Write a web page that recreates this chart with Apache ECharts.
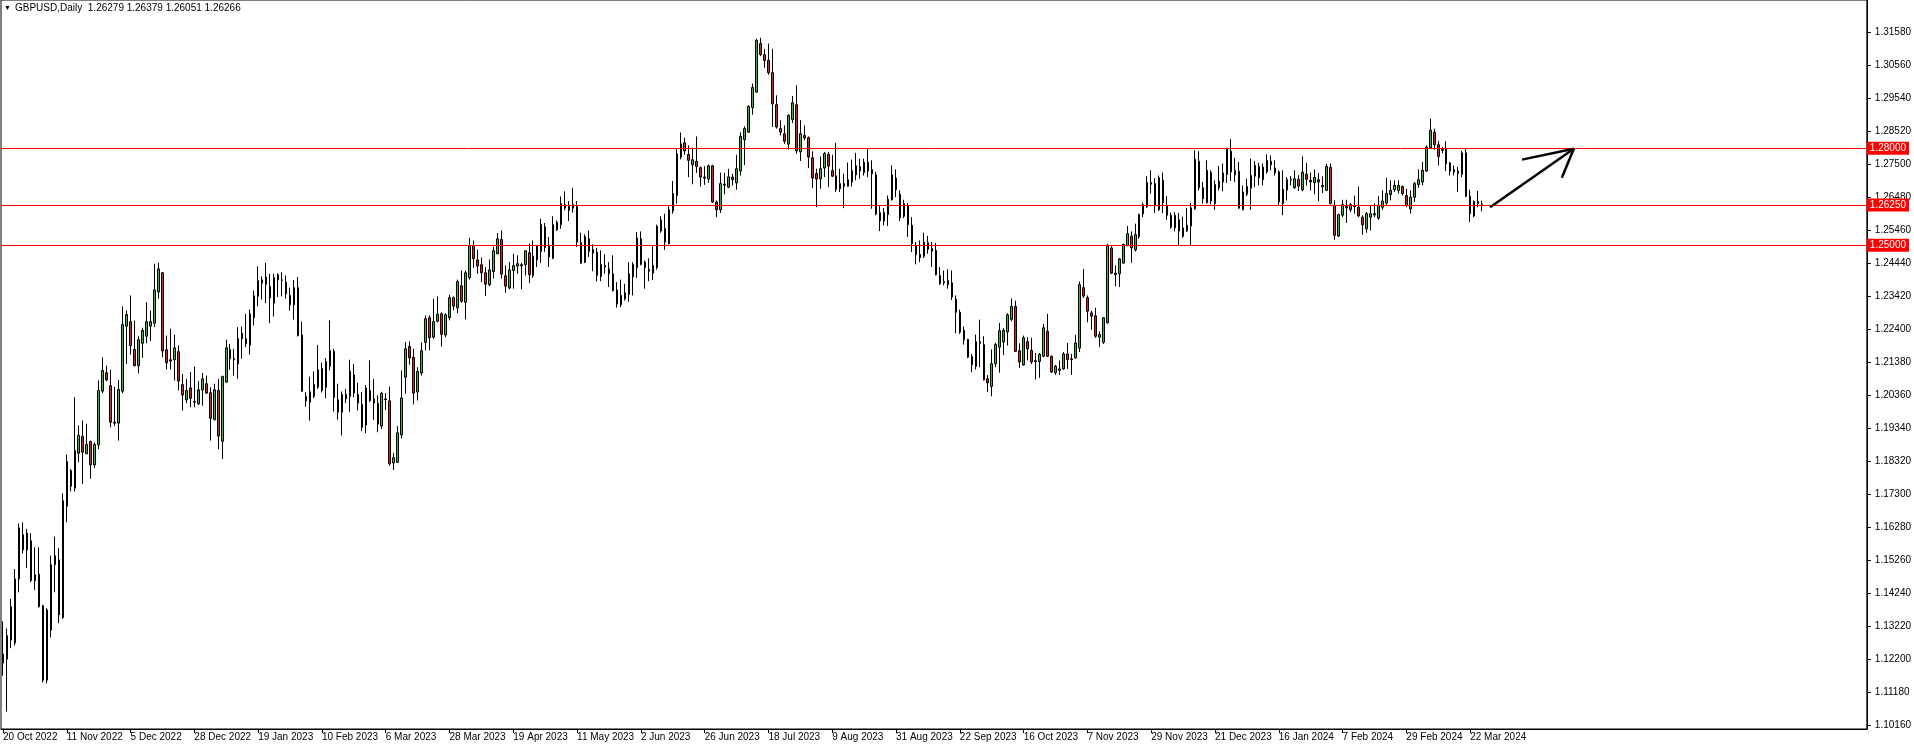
<!DOCTYPE html>
<html><head><meta charset="utf-8">
<script src="https://cdn.jsdelivr.net/npm/echarts@6/dist/echarts.min.js"></script>
<style>html,body{margin:0;padding:0;background:#fff;}#c{width:1914px;height:749px;}</style>
</head><body><div id="c"></div>
<script>
const symbolName = 'GBPUSD,Daily';
const tickLabels = ['20 Oct 2022','11 Nov 2022','5 Dec 2022','28 Dec 2022','19 Jan 2023','10 Feb 2023','6 Mar 2023','28 Mar 2023','19 Apr 2023','11 May 2023','2 Jun 2023','26 Jun 2023','18 Jul 2023','9 Aug 2023','31 Aug 2023','22 Sep 2023','16 Oct 2023','7 Nov 2023','29 Nov 2023','21 Dec 2023','16 Jan 2024','7 Feb 2024','29 Feb 2024','22 Mar 2024'];
const priceTicks = [1.10160,1.11180,1.12200,1.13220,1.14240,1.15260,1.16280,1.17300,1.18320,1.19340,1.20360,1.21380,1.22400,1.23420,1.24440,1.25460,1.26480,1.27500,1.28520,1.29540,1.30560,1.31580];
const levels = [1.28000, 1.26250, 1.25000];

const opens = [
1.1208,1.1220,1.1382,1.1270,1.1468,1.1605,1.1558,1.1586,1.1463,1.1483,
1.1385,1.1155,1.1310,1.1512,1.1527,1.1349,1.1693,1.1803,1.1749,1.1857,
1.1909,1.1855,1.1893,1.1821,1.1883,1.2049,1.2106,1.2066,1.1953,1.1950,
1.2049,1.2250,1.2264,1.2178,1.2128,1.2197,1.2219,1.2250,1.2259,1.2356,
1.2415,1.2177,1.2146,1.2146,1.2171,1.2069,1.2022,1.2059,1.2017,1.2010,
1.2053,1.2072,1.2044,1.1961,1.2051,1.1894,1.2077,1.2177,1.2150,1.2133,
1.2211,1.2211,1.2191,1.2276,1.2343,1.2383,1.2402,1.2373,1.2321,1.2393,
1.2393,1.2386,1.2345,1.2316,1.2369,1.2223,1.2032,1.2015,1.2033,1.2061,
1.2119,1.2061,1.2126,1.2172,1.2022,1.1984,1.2025,1.2033,1.2099,1.2039,
1.2008,1.1944,1.2051,1.2012,1.2011,1.1941,1.2025,1.2019,1.1827,1.1829,
1.1914,1.2092,1.2187,1.2153,1.2046,1.2105,1.2200,1.2276,1.2216,1.2265,
1.2288,1.2223,1.2276,1.2338,1.2307,1.2375,1.2324,1.2400,1.2499,1.2455,
1.2440,1.2415,1.2378,1.2419,1.2474,1.2518,1.2406,1.2368,1.2422,1.2436,
1.2440,1.2440,1.2477,1.2406,1.2455,1.2481,1.2557,1.2497,1.2460,1.2548,
1.2564,1.2626,1.2620,1.2615,1.2620,1.2508,1.2448,1.2520,1.2476,1.2479,
1.2404,1.2433,1.2427,1.2412,1.2362,1.2316,1.2335,1.2348,1.2402,1.2431,
1.2520,1.2448,1.2425,1.2414,1.2431,1.2544,1.2552,1.2505,1.2606,1.2654,
1.2773,1.2817,1.2781,1.2749,1.2760,1.2740,1.2711,1.2705,1.2746,1.2634,
1.2610,1.2689,1.2680,1.2711,1.2693,1.2730,1.2827,1.2850,1.2926,1.2974,
1.3124,1.3090,1.3072,1.3034,1.2935,1.2861,1.2845,1.2813,1.2889,1.2935,
1.2789,1.2840,1.2833,1.2771,1.2722,1.2706,1.2739,1.2781,1.2731,1.2715,
1.2675,1.2691,1.2683,1.2696,1.2718,1.2743,1.2725,1.2757,1.2734,1.2718,
1.2601,1.2575,1.2595,1.2641,1.2708,1.2658,1.2590,1.2623,1.2562,1.2500,
1.2472,1.2466,1.2508,1.2490,1.2484,1.2406,1.2388,1.2378,1.2384,1.2333,
1.2293,1.2237,1.2209,1.2156,1.2126,1.2202,1.2193,1.2087,1.2064,1.2134,
1.2185,1.2201,1.2232,1.2271,1.2311,1.2174,1.2130,1.2202,1.2175,1.2143,
1.2141,1.2157,1.2234,1.2157,1.2106,1.2113,1.2118,1.2164,1.2149,1.2152,
1.2182,1.2369,1.2338,1.2291,1.2282,1.2216,1.2200,1.2260,1.2492,1.2414,
1.2412,1.2445,1.2499,1.2528,1.2486,1.2526,1.2597,1.2619,1.2689,1.2691,
1.2610,1.2701,1.2622,1.2593,1.2554,1.2579,1.2528,1.2545,1.2560,1.2613,
1.2760,1.2678,1.2632,1.2725,1.2629,1.2678,1.2696,1.2719,1.2791,1.2718,
1.2729,1.2610,1.2658,1.2677,1.2714,1.2744,1.2703,1.2727,1.2760,1.2739,
1.2727,1.2629,1.2671,1.2702,1.2678,1.2704,1.2672,1.2720,1.2701,1.2694,
1.2703,1.2685,1.2670,1.2741,1.2624,1.2529,1.2593,1.2620,1.2610,1.2622,
1.2618,1.2587,1.2551,1.2587,1.2594,1.2584,1.2618,1.2631,1.2657,1.2672,
1.2670,1.2682,1.2654,1.2613,1.2649,1.2688,1.2696,1.2730,1.2802,1.2850,
1.2811,1.2799,1.2799,1.2755,1.2735,1.2730,1.2720,1.2786,1.2652,1.2591,
1.2636,1.26279];

const highs = [
1.1337,1.1315,1.1406,1.1499,1.1640,1.1643,1.1623,1.1610,1.1566,1.1566,
1.1388,1.1378,1.1540,1.1599,1.1564,1.1733,1.1853,1.1808,1.2030,1.1943,
1.1958,1.1948,1.1896,1.1890,1.2082,1.2154,1.2128,1.2115,1.2063,1.2084,
1.2311,1.2298,1.2345,1.2267,1.2219,1.2245,1.2324,1.2298,1.2443,1.2446,
1.2417,1.2221,1.2242,1.2224,1.2190,1.2102,1.2087,1.2108,1.2125,1.2080,
1.2105,1.2097,1.2061,1.2072,1.2087,1.2097,1.2208,1.2195,1.2180,1.2247,
1.2249,1.2288,1.2301,1.2360,1.2435,1.2404,1.2446,1.2412,1.2412,1.2414,
1.2417,1.2407,1.2369,1.2393,1.2402,1.2264,1.2046,1.2094,1.2110,1.2192,
1.2137,1.2151,1.2268,1.2180,1.2072,1.2048,1.2056,1.2146,1.2133,1.2075,
1.2046,1.2068,1.2144,1.2087,1.2036,1.2047,1.2043,1.2063,1.1858,1.1941,
1.2113,1.2201,1.2203,1.2180,1.2123,1.2200,1.2283,1.2283,1.2335,1.2342,
1.2293,1.2290,1.2347,1.2342,1.2394,1.2422,1.2422,1.2523,1.2515,1.2487,
1.2462,1.2433,1.2456,1.2495,1.2538,1.2546,1.2438,1.2448,1.2474,1.2469,
1.2446,1.2484,1.2505,1.2515,1.2500,1.2582,1.2569,1.2526,1.2590,1.2577,
1.2651,1.2667,1.2637,1.2678,1.2637,1.2539,1.2534,1.2546,1.2503,1.2492,
1.2484,1.2472,1.2448,1.2469,1.2386,1.2394,1.2381,1.2448,1.2448,1.2541,
1.2543,1.2453,1.2460,1.2500,1.2564,1.2590,1.2598,1.2622,1.2699,1.2799,
1.2849,1.2833,1.2809,1.2802,1.2837,1.2744,1.2745,1.2750,1.2749,1.2639,
1.2725,1.2724,1.2737,1.2721,1.2780,1.2850,1.2868,1.2933,1.3000,1.3139,
1.3142,1.3108,1.3124,1.3108,1.2964,1.2887,1.2871,1.2905,1.2962,1.2995,
1.2887,1.2871,1.2837,1.2791,1.2737,1.2775,1.2789,1.2789,1.2780,1.2817,
1.2737,1.2722,1.2756,1.2765,1.2786,1.2768,1.2768,1.2798,1.2763,1.2727,
1.2623,1.2615,1.2654,1.2747,1.2735,1.2670,1.2641,1.2631,1.2587,1.2510,
1.2515,1.2539,1.2529,1.2510,1.2507,1.2433,1.2422,1.2426,1.2422,1.2345,
1.2301,1.2249,1.2211,1.2164,1.2224,1.2270,1.2219,1.2099,1.2178,1.2199,
1.2260,1.2244,1.2290,1.2336,1.2329,1.2197,1.2221,1.2216,1.2214,1.2167,
1.2167,1.2257,1.2288,1.2159,1.2130,1.2144,1.2170,1.2198,1.2164,1.2223,
1.2388,1.2427,1.2345,1.2298,1.2307,1.2234,1.2278,1.2505,1.2497,1.2438,
1.2461,1.2505,1.2560,1.2543,1.2567,1.2598,1.2632,1.2714,1.2732,1.2708,
1.2716,1.2725,1.2652,1.2601,1.2603,1.2600,1.2589,1.2615,1.2632,1.2794,
1.2791,1.2696,1.2763,1.2732,1.2701,1.2745,1.2753,1.2802,1.2828,1.2771,
1.2758,1.2685,1.2706,1.2768,1.2761,1.2755,1.2753,1.2781,1.2778,1.2763,
1.2732,1.2732,1.2711,1.2714,1.2732,1.2717,1.2775,1.2755,1.2725,1.2735,
1.2724,1.2713,1.2752,1.2753,1.2639,1.2598,1.2641,1.2641,1.2631,1.2654,
1.2682,1.2593,1.2603,1.2624,1.2629,1.2652,1.2670,1.2709,1.2701,1.2701,
1.2701,1.2685,1.2675,1.2670,1.2696,1.2735,1.2758,1.2809,1.2892,1.2861,
1.2823,1.2804,1.2822,1.2758,1.2747,1.2742,1.2792,1.2802,1.2672,1.2639,
1.2668,1.26379];

const lows = [
1.1169,1.1058,1.1254,1.1262,1.1427,1.1547,1.1502,1.1458,1.1434,1.1380,
1.1148,1.1145,1.1287,1.1427,1.1331,1.1344,1.1643,1.1739,1.1739,1.1829,
1.1762,1.1855,1.1778,1.1811,1.1870,1.2043,1.2080,1.1937,1.1941,1.1896,
1.2043,1.2133,1.2162,1.2125,1.2104,1.2152,1.2197,1.2204,1.2247,1.2335,
1.2154,1.2116,1.2116,1.2082,1.2051,1.1989,1.2012,1.1999,1.1999,1.2006,
1.2004,1.2041,1.1896,1.1958,1.1870,1.1839,1.2075,1.2115,1.2097,1.2087,
1.2149,1.2185,1.2162,1.2252,1.2311,1.2332,1.2321,1.2259,1.2280,1.2340,
1.2342,1.2335,1.2298,1.2270,1.2218,1.2046,1.2001,1.1958,1.2027,1.2056,
1.2045,1.2027,1.2113,1.1986,1.1961,1.1912,1.2012,1.1984,1.2030,1.1989,
1.1925,1.1919,1.2015,1.1960,1.1922,1.1932,1.1991,1.1819,1.1805,1.1827,
1.1903,1.2041,1.2131,1.2008,1.2020,1.2097,1.2175,1.2175,1.2211,1.2262,
1.2187,1.2216,1.2268,1.2299,1.2290,1.2322,1.2271,1.2394,1.2430,1.2412,
1.2386,1.2343,1.2374,1.2397,1.2472,1.2397,1.2353,1.2364,1.2366,1.2412,
1.2364,1.2407,1.2383,1.2399,1.2433,1.2445,1.2480,1.2433,1.2457,1.2544,
1.2551,1.2608,1.2575,1.2601,1.2495,1.2443,1.2445,1.2464,1.2420,1.2388,
1.2389,1.2412,1.2371,1.2357,1.2307,1.2309,1.2329,1.2325,1.2345,1.2399,
1.2438,1.2366,1.2389,1.2393,1.2425,1.2539,1.2486,1.2503,1.2598,1.2629,
1.2766,1.2780,1.2711,1.2689,1.2724,1.2682,1.2687,1.2693,1.2631,1.2587,
1.2600,1.2658,1.2677,1.2685,1.2672,1.2716,1.2748,1.2848,1.2904,1.2972,
1.3085,1.3049,1.3028,1.2866,1.2861,1.2840,1.2814,1.2796,1.2878,1.2783,
1.2761,1.2825,1.2739,1.2677,1.2618,1.2675,1.2711,1.2680,1.2711,1.2665,
1.2665,1.2615,1.2682,1.2682,1.2701,1.2706,1.2716,1.2711,1.2613,1.2593,
1.2544,1.2562,1.2560,1.2639,1.2649,1.2575,1.2584,1.2526,1.2479,1.2441,
1.2448,1.2461,1.2474,1.2433,1.2407,1.2378,1.2376,1.2366,1.2331,1.2228,
1.2226,1.2193,1.2151,1.2108,1.2116,1.2123,1.2082,1.2046,1.2033,1.2123,
1.2106,1.2161,1.2190,1.2265,1.2170,1.2121,1.2128,1.2144,1.2133,1.2085,
1.2090,1.2154,1.2154,1.2106,1.2099,1.2099,1.2115,1.2118,1.2099,1.2149,
1.2170,1.2337,1.2262,1.2239,1.2214,1.2185,1.2195,1.2259,1.2411,1.2373,
1.2371,1.2443,1.2497,1.2446,1.2481,1.2520,1.2587,1.2616,1.2660,1.2600,
1.2606,1.2600,1.2579,1.2551,1.2543,1.2500,1.2523,1.2541,1.2500,1.2610,
1.2670,1.2629,1.2629,1.2627,1.2610,1.2670,1.2667,1.2693,1.2699,1.2696,
1.2613,1.2608,1.2652,1.2610,1.2680,1.2685,1.2685,1.2722,1.2732,1.2716,
1.2624,1.2593,1.2639,1.2685,1.2675,1.2668,1.2667,1.2685,1.2670,1.2658,
1.2637,1.2662,1.2668,1.2627,1.2517,1.2526,1.2587,1.2569,1.2603,1.2598,
1.2587,1.2533,1.2539,1.2546,1.2587,1.2579,1.2610,1.2621,1.2639,1.2665,
1.2660,1.2654,1.2618,1.2598,1.2634,1.2678,1.2686,1.2727,1.2799,1.2796,
1.2747,1.2785,1.2730,1.2716,1.2716,1.2665,1.2711,1.2649,1.2572,1.2587,
1.2618,1.26051];

const closes = [
1.1236,1.1293,1.1279,1.1468,1.1626,1.1558,1.1610,1.1463,1.1481,1.1382,
1.1155,1.1372,1.1512,1.1540,1.1357,1.1710,1.1831,1.1755,1.1865,1.1912,
1.1860,1.1884,1.1821,1.1884,1.2051,1.2113,1.2084,1.1953,1.1950,1.2054,
1.2255,1.2286,1.2190,1.2128,1.2208,1.2237,1.2264,1.2264,1.2362,1.2427,
1.2173,1.2137,1.2142,1.2183,1.2080,1.2037,1.2051,1.2027,1.2015,1.2053,
1.2087,1.2043,1.1965,1.2053,1.1910,1.2094,1.2183,1.2149,1.2146,1.2211,
1.2228,1.2195,1.2288,1.2344,1.2391,1.2393,1.2379,1.2337,1.2400,1.2409,
1.2392,1.2350,1.2316,1.2369,1.2221,1.2049,1.2019,1.2047,1.2070,1.2115,
1.2051,1.2140,1.2174,1.2030,1.1984,1.2039,1.2039,1.2110,1.2043,1.2012,
1.1937,1.2059,1.2020,1.2025,1.1947,1.2042,1.2023,1.1824,1.1843,1.1920,
1.2028,1.2180,1.2152,1.2043,1.2110,1.2174,1.2273,1.2214,1.2264,1.2287,
1.2225,1.2285,1.2338,1.2312,1.2388,1.2327,1.2415,1.2499,1.2459,1.2436,
1.2415,1.2380,1.2424,1.2483,1.2520,1.2411,1.2374,1.2424,1.2437,1.2443,
1.2437,1.2483,1.2409,1.2466,1.2497,1.2565,1.2493,1.2464,1.2564,1.2571,
1.2629,1.2615,1.2608,1.2626,1.2510,1.2445,1.2527,1.2482,1.2487,1.2407,
1.2441,1.2438,1.2412,1.2360,1.2319,1.2345,1.2353,1.2412,1.2441,1.2523,
1.2441,1.2431,1.2420,1.2438,1.2559,1.2579,1.2510,1.2610,1.2660,1.2783,
1.2814,1.2792,1.2763,1.2765,1.2744,1.2711,1.2708,1.2746,1.2634,1.2610,
1.2691,1.2686,1.2712,1.2703,1.2737,1.2837,1.2861,1.2930,1.2988,1.3134,
1.3090,1.3072,1.3034,1.2937,1.2866,1.2850,1.2822,1.2902,1.2941,1.2792,
1.2845,1.2832,1.2773,1.2708,1.2705,1.2737,1.2784,1.2745,1.2714,1.2673,
1.2691,1.2683,1.2703,1.2731,1.2746,1.2730,1.2757,1.2730,1.2721,1.2597,
1.2576,1.2601,1.2642,1.2718,1.2672,1.2585,1.2629,1.2564,1.2505,1.2471,
1.2462,1.2509,1.2488,1.2482,1.2409,1.2381,1.2384,1.2391,1.2340,1.2293,
1.2231,1.2208,1.2154,1.2131,1.2202,1.2197,1.2084,1.2075,1.2134,1.2193,
1.2236,1.2237,1.2285,1.2311,1.2172,1.2139,1.2214,1.2180,1.2139,1.2140,
1.2163,1.2245,1.2157,1.2108,1.2126,1.2118,1.2164,1.2147,1.2147,1.2198,
1.2378,1.2343,1.2296,1.2281,1.2219,1.2224,1.2276,1.2498,1.2414,1.2409,
1.2458,1.2503,1.2536,1.2492,1.2533,1.2595,1.2626,1.2694,1.2694,1.2622,
1.2709,1.2631,1.2593,1.2556,1.2593,1.2544,1.2554,1.2562,1.2616,1.2766,
1.2678,1.2644,1.2732,1.2637,1.2688,1.2698,1.2724,1.2797,1.2727,1.2732,
1.2615,1.2665,1.2682,1.2716,1.2747,1.2709,1.2742,1.2763,1.2749,1.2724,
1.2634,1.2673,1.2704,1.2704,1.2706,1.2683,1.2726,1.2704,1.2696,1.2710,
1.2696,1.2681,1.2744,1.2629,1.2531,1.2595,1.2626,1.2616,1.2626,1.2620,
1.2591,1.2564,1.2598,1.2598,1.2598,1.2624,1.2637,1.2660,1.2670,1.2685,
1.2685,1.2660,1.2623,1.2649,1.2691,1.2703,1.2732,1.2804,1.2856,1.2811,
1.2775,1.2794,1.2752,1.2729,1.2727,1.2722,1.2786,1.2652,1.2598,1.2636,
1.2629,1.26266];

// hand-drawn arrow, anchored in [bar slot, price]
const arrowShaft = [[373, 1.2618], [394, 1.2799]];
const arrowHead = [[381, 1.2765], [394, 1.2799], [391, 1.2709]];

const totalSlots = 468;     // visible bar slots incl. empty future area
const labelEvery = 16;

const categories = [];
for (let i = 0; i < totalSlots; i++) {
  const k = i / labelEvery;
  categories.push(i % labelEvery === 0 && k < tickLabels.length ? tickLabels[k] : 'slot' + i);
}
const isLabelSlot = (i) => i % labelEvery === 0 && (i / labelEvery) < tickLabels.length;

const candles = opens.map((o, i) => [o, closes[i], lows[i], highs[i]]);
const last = opens.length - 1;
const headerText = symbolName + '  ' + [opens[last], highs[last], lows[last], closes[last]].map(v => v.toFixed(5)).join(' ');

const FONT = 'Liberation Sans';
const chart = echarts.init(document.getElementById('c'), null, {renderer: 'canvas'});
chart.setOption({
  animation: false,
  backgroundColor: '#ffffff',
  grid: {left: 0.5, right: 41.5, top: 0, bottom: 20, show: true, borderColor: '#000', borderWidth: 1, backgroundColor: 'transparent'},
  xAxis: {
    type: 'category', data: categories, boundaryGap: true,
    axisLine: {show: true, lineStyle: {color: '#000', width: 1}},
    axisTick: {show: true, alignWithLabel: true, interval: (i) => isLabelSlot(i), length: 4, lineStyle: {color: '#000'}},
    axisLabel: {interval: (i) => isLabelSlot(i), align: 'left', margin: 3, color: '#000', fontSize: 10, fontFamily: FONT},
    splitLine: {show: false}
  },
  yAxis: {
    type: 'value', position: 'right', min: 1.10040, max: 1.32588,
    splitLine: {show: false},
    axisLine: {show: true, lineStyle: {color: '#000', width: 1}},
    axisTick: {show: true, length: 4, customValues: priceTicks, lineStyle: {color: '#000'}},
    axisLabel: {customValues: priceTicks, formatter: (v) => v.toFixed(5), margin: 8, color: '#000', fontSize: 10, fontFamily: FONT}
  },
  series: [
    {
      type: 'candlestick', data: candles, barWidth: 2,
      itemStyle: {color: '#3cb43c', color0: '#e01e1e', borderColor: '#000', borderColor0: '#000', borderColorDoji: '#000', borderWidth: 1},
      markLine: {
        silent: true, symbol: ['none', 'none'], animation: false, precision: 5,
        lineStyle: {color: '#ff0000', width: 1, type: 'solid'},
        label: {show: true, position: 'end', distance: 0, formatter: (p) => Number(p.value).toFixed(5),
                backgroundColor: '#ff0000', color: '#fff', fontSize: 10, fontFamily: FONT, padding: [1, 3, 1, 3], lineHeight: 11},
        data: levels.map(v => ({yAxis: v}))
      }
    },
    {type: 'line', data: arrowShaft, showSymbol: false, symbol: 'none', z: 5, lineStyle: {color: '#000', width: 2.5}},
    {type: 'line', data: arrowHead, showSymbol: false, symbol: 'none', z: 5, lineStyle: {color: '#000', width: 2.5}}
  ],
  graphic: [
    {type: 'text', left: 4, top: 5, style: {text: '▼', fontSize: 7, fill: '#000'}},
    {type: 'text', left: 15, top: 3, style: {text: headerText, fontSize: 10, fontFamily: FONT, fill: '#000'}}
  ]
});
</script></body></html>
